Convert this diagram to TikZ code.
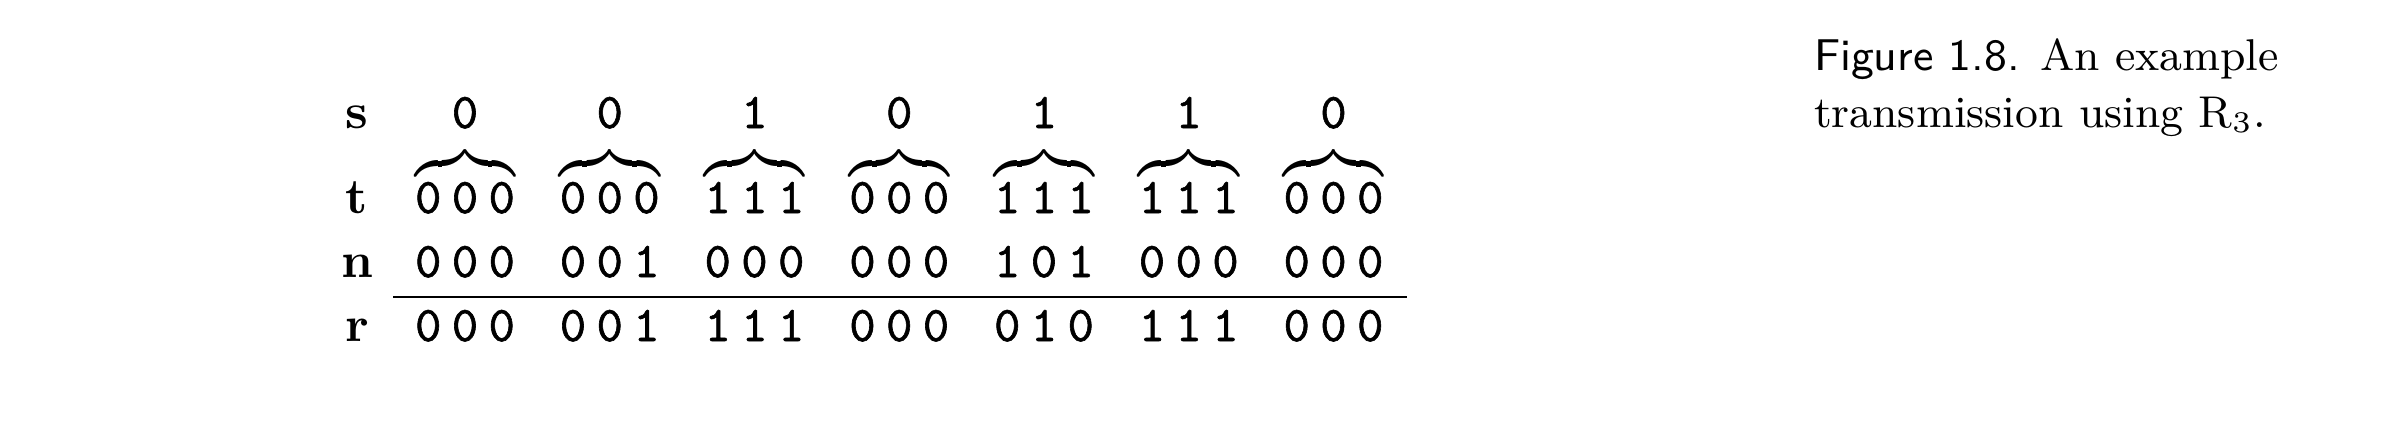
\documentclass[tikz,border=0pt]{standalone}
\usepackage{amsmath}
\usepackage{fontspec}
\newfontface\bitfont{lmmono10-regular.otf}[FakeBold=1.2]
\newcommand\sepbits[3]{#1\hspace{2.1pt}#2\hspace{2.1pt}#3}
\begin{document}
\begin{tikzpicture}[x=0.2pt,y=-0.2pt,
  lbl/.style={anchor=base,inner sep=0pt,font=\fontsize{10}{12}\selectfont\bfseries},
  bit/.style={anchor=base,inner sep=0pt,font=\fontsize{10}{12}\selectfont\bitfont},
  captext/.style={anchor=base west,inner sep=0pt,font=\fontsize{8.9}{11}\selectfont}]
\useasboundingbox (0,0) rectangle (2404,430);
% row labels
\node[lbl] (ls) at (357,128) {s};
\node[lbl] (lt) at (357,213) {t};
\node[lbl] (ln) at (357,277) {n};
\node[lbl] (lr) at (357,341) {r};
% columns
\foreach \i/\s/\t/\n/\r in {0/0/000/000/000,1/0/000/001/001,2/1/111/000/111,3/0/000/000/000,4/1/111/101/010,5/1/111/000/111,6/0/000/000/000}{
  \pgfmathsetmacro{\cx}{465+144.75*\i}
  \node[bit] (s\i) at (\cx,128) {\s};
  \node[bit] (t\i) at (\cx,213) {$\smash{\overbrace{\hbox{\bitfont\expandafter\sepbits\t}}}\vphantom{\hbox{\bitfont 0}}$};
  \node[bit] (n\i) at (\cx,277) {\expandafter\sepbits\n};
  \node[bit] (r\i) at (\cx,341) {\expandafter\sepbits\r};
}
% rule
\coordinate (ruleL) at (393,297);
\coordinate (ruleR) at (1407,297);
\draw[line width=0.4pt] (ruleL) -- (ruleR);
% caption
\node[captext] (cap1) at (1813,70) {\textsf{Figure 1.8.}\hspace{4pt}An example};
\node[captext] (cap2) at (1813,127) {transmission using R$_3$.};
\end{tikzpicture}
\end{document}
